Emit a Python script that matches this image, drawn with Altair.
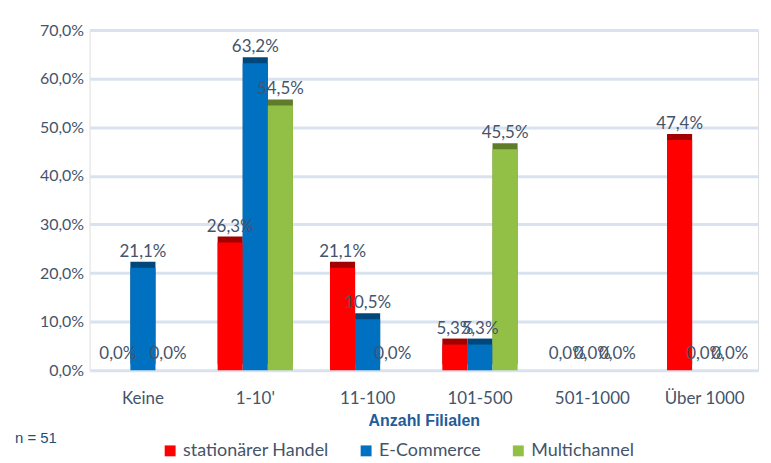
import altair as alt
import pandas as pd

categories = ["Keine", "1-10'", "11-100", "101-500", "501-1000", "Über 1000"]
series = ["stationärer Handel", "E-Commerce", "Multichannel"]
stationaer = [0.0, 26.3, 21.1, 5.3, 0.0, 47.4]
ecommerce = [21.1, 63.2, 10.5, 5.3, 0.0, 0.0]
multichannel = [0.0, 54.5, 0.0, 45.5, 0.0, 0.0]
colors = ["#ff0000", "#0070c0", "#92bf45"]
dark_colors = ["#a30000", "#00477c", "#5e7c2a"]

rows = []
for s, vals in zip(series, [stationaer, ecommerce, multichannel]):
    for c, v in zip(categories, vals):
        rows.append({"Kategorie": c, "Serie": s, "Wert": v,
                     "Label": f"{v:.1f}".replace(".", ",") + "%"})
df = pd.DataFrame(rows)

W, H = 672, 342
txt = "#44546a"
font = "Lato"

xenc = alt.X("Kategorie:N", sort=categories,
             scale=alt.Scale(paddingInner=0.33, paddingOuter=0.14),
             axis=alt.Axis(title="Anzahl Filialen", labelAngle=0, labelFontSize=17,
                           labelColor=txt, labelFont=font, titleFont="Liberation Sans",
                           titleFontSize=16, titleColor="#1f5c99", titleFontWeight="bold",
                           titlePadding=7, ticks=False, domain=False, labelPadding=20))
yenc = alt.Y("Wert:Q", scale=alt.Scale(domain=[0, 70]),
             axis=alt.Axis(title=None, values=[0, 10, 20, 30, 40, 50, 60, 70],
                           labelExpr="replace(format(datum.value, '.1f'), '.', ',') + '%'",
                           labelFontSize=16, labelColor=txt, labelFont=font,
                           ticks=False, domain=False, gridColor="#d9e3f0", gridWidth=3,
                           labelPadding=6))
xoff = alt.XOffset("Serie:N", sort=series)

base = alt.Chart(df).encode(x=xenc, xOffset=xoff)

depth = base.mark_bar(xOffset=6, yOffset=-6).encode(
    y=yenc,
    color=alt.Color("Serie:N", sort=series, scale=alt.Scale(domain=series, range=dark_colors),
                    legend=None))

bars = base.mark_bar().encode(
    y=alt.Y("Wert:Q"),
    color=alt.Color("Serie:N", sort=series, scale=alt.Scale(domain=series, range=colors),
                    legend=alt.Legend(title=None, orient="none", direction="horizontal",
                                      legendX=72, legendY=H + 72,
                                      symbolType="square", symbolSize=120, labelFontSize=18,
                                      labelFont=font, labelColor=txt, columnPadding=28)))

labels = base.mark_text(dy=-16, fontSize=17, font=font, color=txt).encode(
    y=alt.Y("Wert:Q"), text="Label:N")

note = alt.Chart(pd.DataFrame({"t": ["n = 51"]})).mark_text(
    align="left", fontSize=15, font="Liberation Sans", color="#1f4e79").encode(
    x=alt.value(-75), y=alt.value(H + 68), text="t:N")

chart = alt.layer(depth, bars, labels, note).resolve_scale(color="independent").properties(
    width=W, height=H, padding={"left": 7, "top": 13, "right": 5, "bottom": 5}
).configure_view(stroke=None).configure(background="white")

chart.save("out.html", embed_options={"renderer": "svg", "actions": False})
